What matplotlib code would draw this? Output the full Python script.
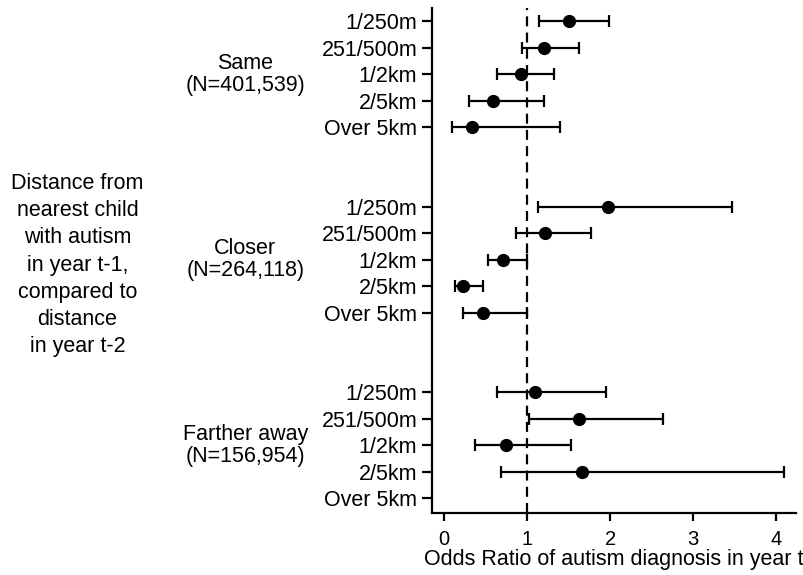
import matplotlib
matplotlib.use('Agg')

import numpy as np
import matplotlib.pyplot as plt
import matplotlib.transforms as mtransforms

plt.rcParams['font.family'] = ['Liberation Sans', 'DejaVu Sans']

distances = ['1/250m', '251/500m', '1/2km', '2/5km', 'Over 5km']
groups = ['Same\n(N=401,539)', 'Closer\n(N=264,118)', 'Farther away\n(N=156,954)']

# odds ratio, lower and upper CI per group
same_or = [1.50, 1.20, 0.92, 0.59, 0.33]
same_lo = [1.14, 0.94, 0.64, 0.30, 0.09]
same_hi = [1.99, 1.62, 1.32, 1.20, 1.39]

closer_or = [1.97, 1.22, 0.71, 0.23, 0.47]
closer_lo = [1.13, 0.86, 0.53, 0.13, 0.23]
closer_hi = [3.47, 1.77, 1.00, 0.47, 1.00]

farther_or = [1.10, 1.63, 0.75, 1.66, np.nan]
farther_lo = [0.64, 1.02, 0.37, 0.69, np.nan]
farther_hi = [1.95, 2.64, 1.53, 4.09, np.nan]

left_label = 'Distance from\nnearest child\nwith autism\nin year t-1,\ncompared to\ndistance\nin year t-2'
xlabel = 'Odds Ratio of autism diagnosis in year t'

fs = 15.5
lw = 1.6

fig = plt.figure(figsize=(8.04, 5.75), dpi=100)
ax = fig.add_axes([0.537, 0.108, 0.453, 0.878])

series = [(same_or, same_lo, same_hi),
          (closer_or, closer_lo, closer_hi),
          (farther_or, farther_lo, farther_hi)]

ypos_all = []
labels_all = []
group_centers = []
for g, (orr, lo, hi) in enumerate(series):
    ypos = np.arange(len(distances)) + g * 7
    orr = np.array(orr)
    lo = np.array(lo)
    hi = np.array(hi)
    ax.errorbar(orr, ypos, xerr=[orr - lo, hi - orr], fmt='o', color='black',
                ms=8.5, elinewidth=lw, capsize=4, capthick=lw, zorder=3)
    ypos_all.extend(ypos)
    labels_all.extend(distances)
    group_centers.append(ypos[2])

ax.axvline(1, color='black', lw=lw, ls=(0, (4.5, 2.8)), zorder=2)

ax.set_ylim(18.55, -0.5)
ax.set_xlim(-0.15, 4.24)
ax.set_yticks(ypos_all)
ax.set_yticklabels(labels_all, fontsize=fs)
ax.set_xticks([0, 1, 2, 3, 4])
ax.set_xticklabels(['0', '1', '2', '3', '4'], fontsize=14.5)
ax.set_xlabel(xlabel, fontsize=fs, labelpad=0)

for side in ['top', 'right']:
    ax.spines[side].set_visible(False)
for side in ['left', 'bottom']:
    ax.spines[side].set_linewidth(lw)
ax.tick_params(axis='y', width=lw, length=7, pad=3.5)
ax.tick_params(axis='x', width=lw, length=6, pad=6)

trans = mtransforms.blended_transform_factory(fig.transFigure, ax.transData)
for name, yc in zip(groups, group_centers):
    ax.text(0.305, yc, name, transform=trans, ha='center', va='center',
            fontsize=fs, linespacing=1.05)

fig.text(0.0964, 1 - 265 / 575, left_label, ha='center', va='center',
         fontsize=fs, linespacing=1.39)

plt.savefig('out.png', dpi=100)
